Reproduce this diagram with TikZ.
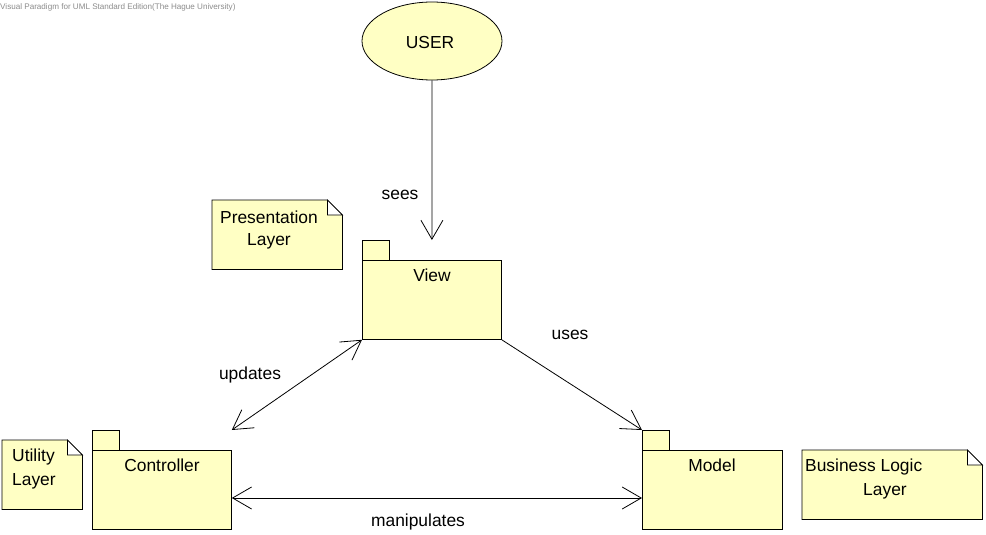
\documentclass[tikz,border=0pt]{standalone}
\usepackage{fontspec}
\setmainfont{Liberation Sans}
\usetikzlibrary{arrows.meta}
\definecolor{vpfill}{RGB}{255,255,196}
\definecolor{wmgray}{RGB}{140,140,140}
\tikzset{
  pkg/.style={draw=black, fill=vpfill, line width=0.8pt, inner sep=0pt, anchor=north west},
  notebox/.style={draw=black, fill=vpfill, line width=0.8pt},
  fold/.style={draw=black, fill=white, line width=0.8pt},
  lbl/.style={font=\fontsize{17.4pt}{20pt}\selectfont, inner sep=0pt},
  conn/.style={line width=0.8pt, draw=black},
  usecase/.style={ellipse, draw=black, fill=vpfill, line width=0.8pt, minimum width=140pt, minimum height=78pt, inner sep=0pt}
}
\usetikzlibrary{shapes.geometric}
\begin{document}
\begin{tikzpicture}[x=1pt, y=-1pt]
\useasboundingbox[fill=white] (0,0) rectangle (986,535);

% watermark
\node[anchor=west, inner sep=0pt, text=wmgray, font=\fontsize{8.1pt}{9pt}\selectfont] (wm) at (0,7) {Visual Paradigm for UML Standard Edition(The Hague University)};

% USER
\node[usecase] (user) at (432,41) {};
\node[lbl] (usertxt) at (430,43) {USER};

% View package
\node[pkg, minimum width=27pt, minimum height=20pt] (viewtab) at (362,240) {};
\node[pkg, minimum width=139pt, minimum height=79pt] (view) at (362,260) {};
\node[lbl] (viewtxt) at (432,275) {View};
\coordinate (viewtop) at (view.north |- viewtab.north);

% Controller package
\node[pkg, minimum width=27pt, minimum height=20pt] (ctrltab) at (92,430) {};
\node[pkg, minimum width=139pt, minimum height=79pt] (ctrl) at (92,450) {};
\node[lbl] (ctrltxt) at (162,465) {Controller};
\coordinate (ctrlcorner) at (ctrl.east |- ctrltab.north);
\coordinate (ctrlmid) at (ctrl.east |- 0,498);

% Model package
\node[pkg, minimum width=27pt, minimum height=20pt] (modeltab) at (642,430) {};
\node[pkg, minimum width=140pt, minimum height=79pt] (model) at (642,450) {};
\node[lbl] (modeltxt) at (712,465) {Model};
\coordinate (modelmid) at (model.west |- 0,498);

% Presentation Layer note
\node[inner sep=0pt, minimum width=130pt, minimum height=69pt, anchor=north west] (pnote) at (212,200) {};
\draw[notebox] (pnote.north west) -- ([xshift=-15pt]pnote.north east) -- ([yshift=-15pt]pnote.north east) -- (pnote.south east) -- (pnote.south west) -- cycle;
\draw[fold] ([xshift=-15pt]pnote.north east) -- ([xshift=-15pt,yshift=-15pt]pnote.north east) -- ([yshift=-15pt]pnote.north east) -- cycle;
\node[lbl] (ptxt1) at (269,217) {Presentation};
\node[lbl] (ptxt2) at (269,241) {Layer};

% Utility Layer note
\node[inner sep=0pt, minimum width=80pt, minimum height=69pt, anchor=north west] (unote) at (2,440) {};
\draw[notebox] (unote.north west) -- ([xshift=-15pt]unote.north east) -- ([yshift=-15pt]unote.north east) -- (unote.south east) -- (unote.south west) -- cycle;
\draw[fold] ([xshift=-15pt]unote.north east) -- ([xshift=-15pt,yshift=-15pt]unote.north east) -- ([yshift=-15pt]unote.north east) -- cycle;
\node[lbl, anchor=west] (utxt1) at (12,457) {Utility};
\node[lbl, anchor=west] (utxt2) at (12,481) {Layer};

% Business Logic Layer note
\node[inner sep=0pt, minimum width=180pt, minimum height=69pt, anchor=north west] (bnote) at (802,450) {};
\draw[notebox] (bnote.north west) -- ([xshift=-15pt]bnote.north east) -- ([yshift=-15pt]bnote.north east) -- (bnote.south east) -- (bnote.south west) -- cycle;
\draw[fold] ([xshift=-15pt]bnote.north east) -- ([xshift=-15pt,yshift=-15pt]bnote.north east) -- ([yshift=-15pt]bnote.north east) -- cycle;
\node[lbl, anchor=west] (btxt1) at (805,467) {Business Logic};
\node[lbl] (btxt2) at (885,491) {Layer};

% connectors
\draw[conn, -{Straight Barb[length=19pt, width=22pt]}] (user.south) -- (viewtop);
\draw[conn, {Straight Barb[length=19pt, width=22pt]}-{Straight Barb[length=19pt, width=22pt]}] (view.south west) -- (ctrlcorner);
\draw[conn, -{Straight Barb[length=19pt, width=22pt]}] (view.south east) -- (modeltab.north west);
\draw[conn, {Straight Barb[length=19pt, width=22pt]}-{Straight Barb[length=19pt, width=22pt]}] (ctrlmid) -- (modelmid);

% connector labels
\node[lbl] (seestxt) at (400,195) {sees};
\node[lbl] (usestxt) at (570,335) {uses};
\node[lbl] (updtxt) at (250,375) {updates};
\node[lbl] (maniptxt) at (418,522) {manipulates};
\end{tikzpicture}
\end{document}
